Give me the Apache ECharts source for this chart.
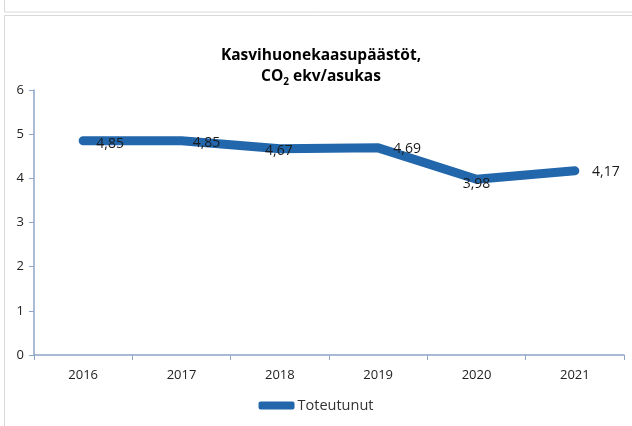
<!DOCTYPE html>
<html>
<head>
<meta charset="utf-8">
<script src="https://cdn.jsdelivr.net/npm/echarts@6/dist/echarts.min.js"></script>
<style>
  html, body { margin: 0; padding: 0; background: #fff; }
  #chart { width: 632px; height: 426px; }
</style>
</head>
<body>
<div id="chart"></div>
<script>
// vuodet ja arvot
const years = ["2016", "2017", "2018", "2019", "2020", "2021"];
const toteutunut = [4.85, 4.85, 4.67, 4.69, 3.98, 4.17];
const yTicks = [0, 1, 2, 3, 4, 5, 6];

// labelien sijainti (excel asettelee ne vähän eri kohtiin)
const labelOffsets = [[27, 3], [25, 2], [-1, 2], [29, 1], [0, 5], [31, 1]];

const chart = echarts.init(document.getElementById("chart"));
const axisColor = "#8EA4C8";
const font = "Open Sans, Liberation Sans, sans-serif";

chart.setOption({
  animation: false,
  title: {
    text: "{b|Kasvihuonekaasupäästöt,}\n{b|CO}{s|2}{b| ekv/asukas}",
    left: 316,
    textAlign: "center",
    top: 40,
    textStyle: {
      rich: {
        b: { fontSize: 15.5, fontWeight: "bold", fontFamily: font, color: "#000", lineHeight: 21 },
        s: { fontSize: 10, fontWeight: "bold", fontFamily: font, color: "#000", lineHeight: 21, verticalAlign: "bottom", padding: [6, 0, 0, 0] }
      }
    }
  },
  graphic: [
    { type: "rect", shape: { x: 4.5, y: -5, width: 640, height: 17 }, style: { fill: "none", stroke: "#d9d9d9", lineWidth: 1 } },
    { type: "rect", shape: { x: 4.5, y: 15.5, width: 640, height: 420 }, style: { fill: "none", stroke: "#d9d9d9", lineWidth: 1 } }
  ],
  legend: {
    bottom: 8,
    left: "center",
    itemWidth: 36,
    itemHeight: 8,
    itemGap: 4,
    icon: "roundRect",
    textStyle: { fontSize: 14.5, fontFamily: font, color: "#333", padding: [0, 0, 0, -2] },
    data: ["Toteutunut"]
  },
  grid: { left: 34, right: 8, top: 90, bottom: 71 },
  xAxis: {
    type: "category",
    data: years,
    boundaryGap: true,
    axisLine: { lineStyle: { color: axisColor, width: 1.5 } },
    axisTick: { show: true, length: 5, lineStyle: { color: axisColor } },
    axisLabel: { fontSize: 13, fontFamily: font, color: "#222", margin: 14 }
  },
  yAxis: {
    type: "value",
    min: yTicks[0],
    max: yTicks[yTicks.length - 1],
    interval: 1,
    splitLine: { show: false },
    axisLine: { show: true, lineStyle: { color: axisColor, width: 1.5 } },
    axisTick: { show: true, length: 5, lineStyle: { color: axisColor } },
    axisLabel: { fontSize: 13, fontFamily: font, color: "#222", margin: 10 }
  },
  series: [
    {
      name: "Toteutunut",
      type: "line",
      data: toteutunut.map((v, i) => ({
        value: v,
        label: { offset: labelOffsets[i] }
      })),
      symbol: "circle",
      symbolSize: 2,
      showSymbol: true,
      color: "#2267AB",
      lineStyle: { width: 9, cap: "round", join: "round", color: "#2267AB" },
      label: {
        show: true,
        position: "inside",
        fontSize: 14,
        fontFamily: font,
        color: "#1a1a1a",
        formatter: (p) => String(p.value).replace(".", ",")
      }
    }
  ]
});
</script>
</body>
</html>
